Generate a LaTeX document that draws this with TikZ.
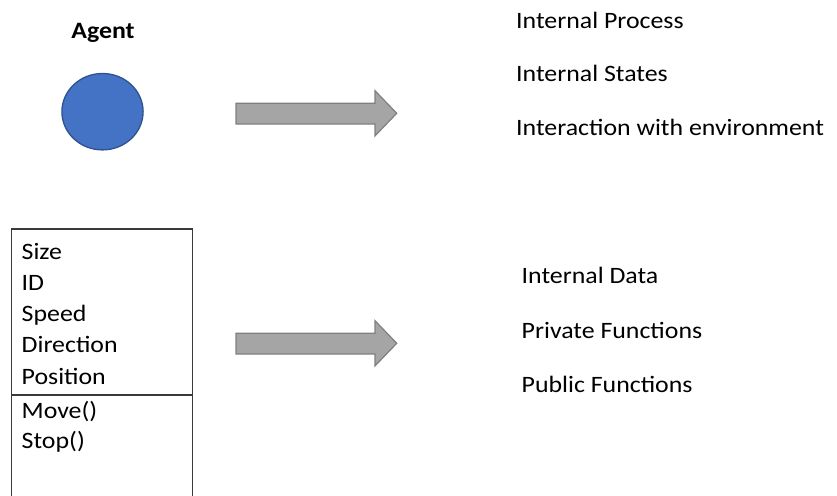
\documentclass[tikz,border=0pt]{standalone}
\usepackage{fontspec}
\setmainfont{Carlito}[FakeStretch=1.1]
\definecolor{agentblue}{HTML}{4472C4}
\definecolor{agentedge}{HTML}{2F528F}
\definecolor{arrowfill}{HTML}{A5A5A5}
\definecolor{arrowedge}{HTML}{7F7F7F}
\definecolor{boxedge}{HTML}{3A3A3A}
\tikzset{
  label text/.style={anchor=base west, inner sep=0pt, font=\fontsize{23.5}{28}\selectfont, text=black},
  title text/.style={anchor=base, inner sep=0pt, font=\fontsize{23.5}{28}\selectfont\bfseries, text=black},
  block arrow/.style={fill=arrowfill, draw=arrowedge, line width=1.2pt, line join=miter},
  class box/.style={draw=boxedge, line width=1.3pt},
}
\begin{document}
\begin{tikzpicture}[x=1pt, y=-1pt]
  \useasboundingbox (0,0) rectangle (837,495);

  % agent symbol
  \node[title text] (agentTitle) at (103,39) {Agent};
  \fill[agentblue, draw=agentedge, line width=1.3pt] (102.5,111.7) ellipse [x radius=40.6, y radius=38.2];

  % block arrows
  \draw[block arrow] (236,103.3) -- (375,103.3) -- (375,90.7) -- (396.7,113.3)
        -- (375,135.9) -- (375,124) -- (236,124) -- cycle;
  \draw[block arrow] (236,333.3) -- (375,333.3) -- (375,320.7) -- (396.7,343.3)
        -- (375,365.9) -- (375,354) -- (236,354) -- cycle;

  % properties of an agent
  \node[label text] (proc)  at (516,28.3)  {Internal Process};
  \node[label text] (state) at (516,81.7)  {Internal States};
  \node[label text] (env)   at (516,135)   {Interaction with environment};

  % class box, open at the bottom
  \draw[class box] (11.7,497) -- (11.7,229) -- (192.7,229) -- (192.7,497);
  \draw[class box] (11.7,395) -- (192.7,395);
  \node[label text] (size) at (21.5,259.3) {Size};
  \node[label text] (id)   at (21.5,290.5) {ID};
  \node[label text] (spd)  at (21.5,321.5) {Speed};
  \node[label text] (dir)  at (21.5,352.8) {Direction};
  \node[label text] (pos)  at (21.5,384)   {Position};
  \node[label text] (mv)   at (21.5,418)   {Move()};
  \node[label text] (stp)  at (21.5,448)   {Stop()};

  % parts of a class
  \node[label text] (data) at (521.5,283.3) {Internal Data};
  \node[label text] (priv) at (521.5,338)   {Private Functions};
  \node[label text] (pub)  at (521.5,392.5) {Public Functions};
\end{tikzpicture}
\end{document}
